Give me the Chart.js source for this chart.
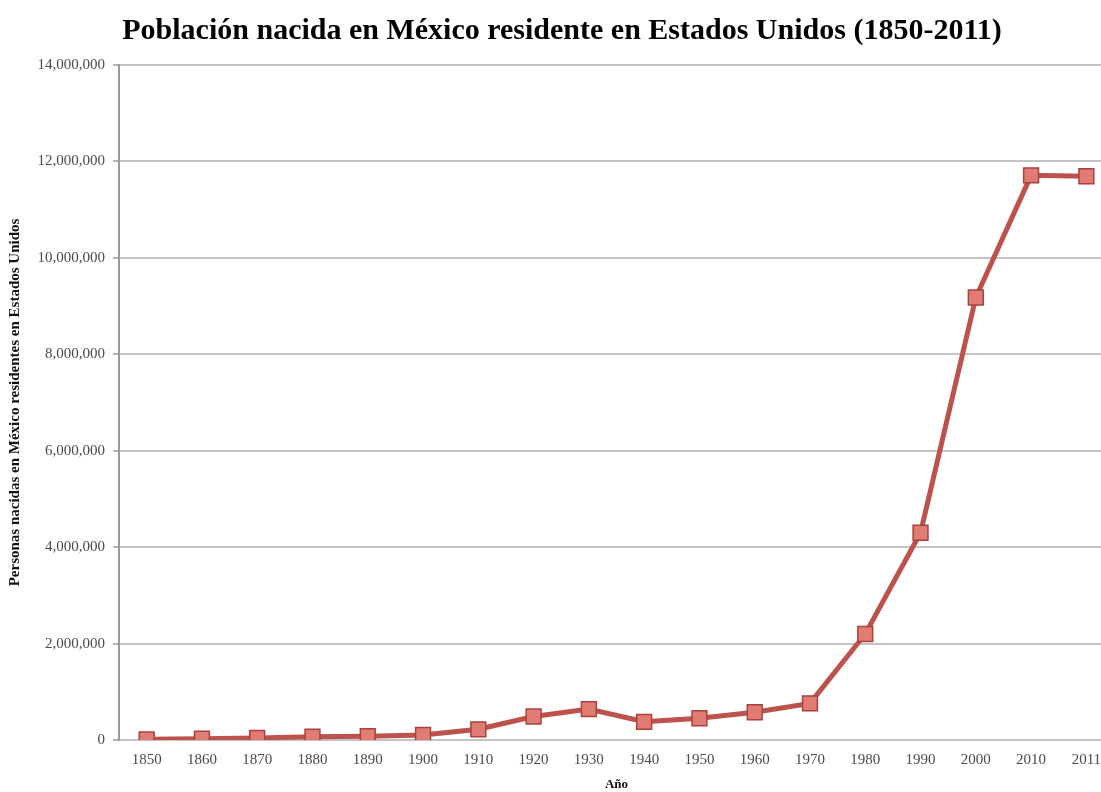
<!DOCTYPE html>
<html>
<head>
<meta charset="utf-8">
<script src="https://cdn.jsdelivr.net/npm/chart.js@4/dist/chart.umd.min.js"></script>
<style>
  html, body { margin: 0; padding: 0; background: #fff; overflow: hidden; }
  #wrap { width: 1126px; height: 792px; }
</style>
</head>
<body>
<div id="wrap"><canvas id="c" width="1126" height="792"></canvas></div>
<script>
// Población nacida en México residente en Estados Unidos, por año censal
const years = ['1850','1860','1870','1880','1890','1900','1910','1920','1930',
               '1940','1950','1960','1970','1980','1990','2000','2010','2011'];
const population = [13317, 27466, 42435, 68399, 77853, 103393, 221915, 486418, 641462,
                    377433, 451490, 575902, 759711, 2199221, 4298014, 9177487, 11711103, 11691632];
const yTicks = [0, 2000000, 4000000, 6000000, 8000000, 10000000, 12000000, 14000000];

const serif = '"Liberation Serif", "Times New Roman", serif';

new Chart(document.getElementById('c'), {
  type: 'line',
  data: {
    labels: years,
    datasets: [{
      data: population,
      borderColor: '#bd514c',
      borderWidth: 5,
      tension: 0,
      pointStyle: 'rect',
      pointRadius: 10.5,
      pointBackgroundColor: '#e07c74',
      pointBorderColor: '#a8423e',
      pointBorderWidth: 1.5
    }]
  },
  options: {
    responsive: false,
    animation: false,
    layout: { padding: { left: 0, right: 2, top: 0, bottom: 0 } },
    plugins: {
      legend: { display: false },
      tooltip: { enabled: false },
      title: {
        display: true,
        text: 'Población nacida en México residente en Estados Unidos (1850-2011)',
        color: '#000',
        font: { family: serif, size: 30, weight: 'bold', lineHeight: 1.2 },
        padding: { top: 13, bottom: 16 }
      }
    },
    scales: {
      x: {
        offset: true,
        grid: { display: false, drawTicks: false, offset: true },
        border: { display: true, color: '#c4c4c4', width: 2 },
        ticks: { color: '#4a4a4a', font: { family: serif, size: 15 }, padding: 11, maxRotation: 0, autoSkip: false },
        title: {
          display: true, text: 'Año', color: '#111',
          font: { family: serif, size: 13, weight: 'bold' }, padding: { top: 2, bottom: 0 }
        },
        afterFit: s => { s.height = 52; }
      },
      y: {
        min: 0,
        max: 14000000,
        afterBuildTicks: s => { s.ticks = yTicks.map(v => ({ value: v })); },
        grid: { color: '#c4c4c4', lineWidth: 2, tickLength: 6, tickColor: '#9a9a9a', tickWidth: 1.5 },
        border: { display: true, color: '#9a9a9a', width: 2 },
        ticks: {
          color: '#4a4a4a', font: { family: serif, size: 15 }, padding: 8,
          callback: v => v.toLocaleString('en-US')
        },
        title: {
          display: true, text: 'Personas nacidas en México residentes en Estados Unidos', color: '#111',
          font: { family: serif, size: 15, weight: 'bold' }, padding: { top: 6, bottom: 4 }
        },
        afterFit: s => { s.width = 119; }
      }
    }
  }
});
</script>
</body>
</html>
